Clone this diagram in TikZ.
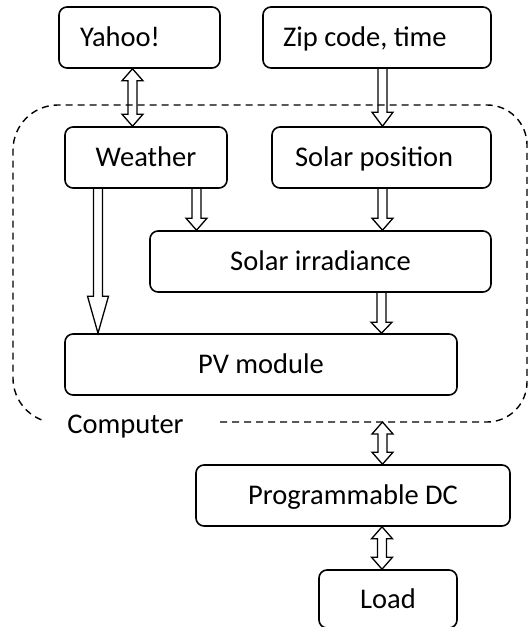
\documentclass[tikz,border=0pt]{standalone}
\usepackage{fontspec}
\setmainfont{Carlito}
\usetikzlibrary{calc}
\tikzset{
  box/.style={draw, line width=1.6pt, rounded corners=8pt, minimum height=61pt,
    inner ysep=0pt, inner xsep=0pt, text height=18.6pt, text depth=0pt,
    font=\fontsize{28.5}{34}\selectfont},
  lbox/.style={box, align=flush left},
  lbl/.style={inner sep=0pt, text height=18.6pt, text depth=0pt, font=\fontsize{28.5}{34}\selectfont},
  arrline/.style={draw, line width=1.3pt, line join=miter},
  boundary/.style={draw, dash pattern=on 7pt off 5pt, line width=1.4pt},
}
% single hollow arrow from #1 down to #2, head length #3, head half width #4
\newcommand\hdown[4]{\draw[arrline] let \p1=(#1), \p2=(#2) in
  ({\x1-4.5pt},{\y1}) -- ({\x1-4.5pt},{\y2+#3}) -- ({\x1-#4},{\y2+#3}) -- (\p2)
  -- ({\x1+#4},{\y2+#3}) -- ({\x1+4.5pt},{\y2+#3}) -- ({\x1+4.5pt},{\y1});}
% double-headed hollow arrow between #1 (top) and #2 (bottom), head length #3
\newcommand\hboth[3]{\draw[arrline] let \p1=(#1), \p2=(#2) in
  (\p1) -- ({\x1+10.5pt},{\y1-#3}) -- ({\x1+4.5pt},{\y1-#3}) -- ({\x1+4.5pt},{\y2+#3})
  -- ({\x1+10.5pt},{\y2+#3}) -- (\p2) -- ({\x1-10.5pt},{\y2+#3}) -- ({\x1-4.5pt},{\y2+#3})
  -- ({\x1-4.5pt},{\y1-#3}) -- ({\x1-10.5pt},{\y1-#3}) -- cycle;}
\begin{document}
\begin{tikzpicture}[x=1pt,y=1pt]
\useasboundingbox (0,0) rectangle (530,627);
\clip (0,0) rectangle (530,627);

% boxes
\node[lbox, inner xsep=21pt, text width=119pt] (yahoo) at (139.5,589.5) {Yahoo!};
\node[lbox, inner xsep=20pt, text width=188pt] (zip) at (377,589.5) {Zip code, time};
\node[box, minimum width=162pt] (weather) at (146,469.5) {Weather};
\node[lbox, inner xsep=23pt, text width=173pt] (solpos) at (381.5,469.5) {Solar position};
\node[box, minimum width=341pt] (irr) at (320.5,365.5) {Solar irradiance};
\node[box, minimum width=392pt] (pv) at (261,262.5) {PV module};
\node[box, minimum width=314pt] (prog) at (353,131.5) {Programmable DC};
\node[box, minimum width=138pt, minimum height=58pt] (load) at (388,28) {Load};

% computer boundary
\draw[boundary] (220,205) -- (487,205) arc[start angle=-90, end angle=0, radius=40]
  -- (527,482) arc[start angle=0, end angle=90, radius=40]
  -- (58,522) arc[start angle=90, end angle=180, radius=45]
  -- (13,249) arc[start angle=180, end angle=250, radius=45];
\node[lbl] (computer) at (125.5,203) {Computer};
\coordinate (cb) at (382.5,205);

% arrow columns
\coordinate (xa) at (132.5,0);
\coordinate (xb) at (382.5,0);
\coordinate (xc) at (196.5,0);
\coordinate (xd) at (98,0);
\coordinate (xe) at (381.5,0);
\coordinate (xf) at (382,0);

% arrows
\hboth{xa |- yahoo.south}{xa |- weather.north}{12pt}
\hdown{xb |- zip.south}{xb |- solpos.north}{14pt}{10.5pt}
\hdown{xc |- weather.south}{xc |- irr.north}{12pt}{10.5pt}
\hdown{xd |- weather.south}{xd |- pv.north}{37pt}{10.5pt}
\hdown{xb |- solpos.south}{xb |- irr.north}{12pt}{10.5pt}
\hdown{xe |- irr.south}{xe |- pv.north}{11pt}{10.5pt}
\hboth{cb}{xb |- prog.north}{12pt}
\hboth{xf |- prog.south}{xf |- load.north}{12pt}
\end{tikzpicture}
\end{document}
